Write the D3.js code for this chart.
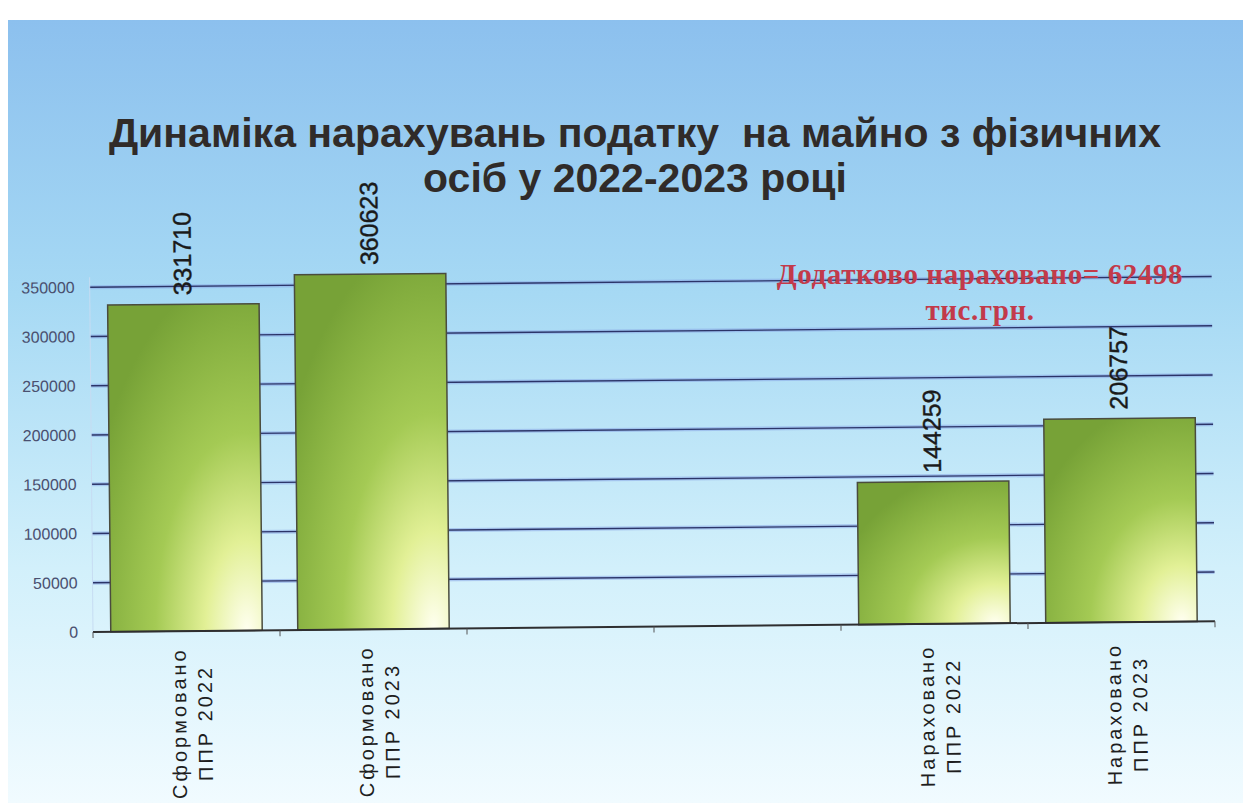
<!DOCTYPE html>
<html>
<head>
<meta charset="utf-8">
<script src="https://cdn.jsdelivr.net/npm/d3@7"></script>
<style>
  html, body { margin: 0; padding: 0; background: #fff; }
  svg { display: block; }
</style>
</head>
<body>
<div id="plot"></div>
<script>
// values (тис. грн.)
const categories = ['Сформовано ППР 2022', 'Сформовано ППР 2023', 'gap1', 'gap2', 'Нараховано ППР 2022', 'Нараховано ППР 2023'];
const labelLines = [['Сформовано', 'ППР 2022'], ['Сформовано', 'ППР 2023'], null, null, ['Нараховано', 'ППР 2022'], ['Нараховано', 'ППР 2023']];
const values = [331710, 360623, null, null, 144259, 206757];
const yTicks = [0, 50000, 100000, 150000, 200000, 250000, 300000, 350000];
const titleLines = ['Динаміка нарахувань податку  на майно з фізичних', 'осіб у 2022-2023 році'];
const noteLines = ['Додатково нараховано= 62498', 'тис.грн.'];

const width = 1243;
const height = 803;
const plot = {left: 93, right: 1215, top: 238, bottom: 632};

const svg = d3.select('#plot')
    .append('svg')
    .attr('width', width)
    .attr('height', height);

const defs = svg.append('defs');

const bg = defs.append('linearGradient')
    .attr('id', 'bg')
    .attr('x1', 0).attr('y1', 0).attr('x2', 0).attr('y2', 1);
bg.append('stop').attr('offset', '0%').attr('stop-color', '#8cc0ee');
bg.append('stop').attr('offset', '35%').attr('stop-color', '#a6d9f4');
bg.append('stop').attr('offset', '70%').attr('stop-color', '#d2f0fb');
bg.append('stop').attr('offset', '100%').attr('stop-color', '#f1fbff');

const barFill = defs.append('radialGradient')
    .attr('id', 'barFill')
    .attr('cx', '0.9').attr('cy', '1').attr('r', '1.1')
    .attr('fx', '0.9').attr('fy', '1');
barFill.append('stop').attr('offset', '0%').attr('stop-color', '#fffff0');
barFill.append('stop').attr('offset', '25%').attr('stop-color', '#e2f096');
barFill.append('stop').attr('offset', '55%').attr('stop-color', '#a4ca54');
barFill.append('stop').attr('offset', '85%').attr('stop-color', '#86b040');
barFill.append('stop').attr('offset', '100%').attr('stop-color', '#77a237');

// slide background (photo has a white strip top/left)
svg.append('rect')
    .attr('x', 8).attr('y', 20)
    .attr('width', width - 8).attr('height', height - 20)
    .attr('fill', 'url(#bg)');

svg.append('g')
    .selectAll('text')
    .data(titleLines)
    .join('text')
    .attr('x', 635)
    .attr('y', (d, i) => 147 + i * 45)
    .attr('text-anchor', 'middle')
    .attr('font-family', 'Liberation Sans, Arial, sans-serif')
    .attr('font-weight', 'bold')
    .attr('font-size', '41px')
    .attr('fill', '#302b29')
    .style('white-space', 'pre')
    .text(d => d);

// the photo is slightly tilted, so the plot is too
const chart = svg.append('g')
    .attr('transform', `rotate(-0.55, ${plot.left}, ${plot.bottom})`);

const x = d3.scaleBand()
    .domain(categories)
    .range([plot.left, plot.right])
    .paddingInner(0.19)
    .paddingOuter(0.095);

const y = d3.scaleLinear()
    .domain([0, 400000])
    .range([plot.bottom, plot.top]);

// gridlines with a soft glow
const grid = chart.append('g');
grid.selectAll('line.glow')
    .data(yTicks.slice(1))
    .join('line')
    .attr('class', 'glow')
    .attr('x1', plot.left).attr('x2', plot.right)
    .attr('y1', d => y(d)).attr('y2', d => y(d))
    .attr('stroke', '#8aa8e6')
    .attr('stroke-width', 4)
    .attr('opacity', 0.55);
grid.selectAll('line.main')
    .data(yTicks.slice(1))
    .join('line')
    .attr('class', 'main')
    .attr('x1', plot.left).attr('x2', plot.right)
    .attr('y1', d => y(d)).attr('y2', d => y(d))
    .attr('stroke', '#2b3468')
    .attr('stroke-width', 1.3);

chart.append('line')
    .attr('x1', plot.left).attr('x2', plot.left)
    .attr('y1', y(350000) - 10).attr('y2', plot.bottom)
    .attr('stroke', '#c6dcf2')
    .attr('stroke-width', 1);

const yAxis = chart.append('g')
    .attr('transform', `translate(${plot.left},0)`)
    .call(d3.axisLeft(y).tickValues(yTicks).tickSize(0).tickPadding(15).tickFormat(d3.format('d')));
yAxis.select('.domain').remove();
yAxis.selectAll('text')
    .attr('font-family', 'Liberation Sans, Arial, sans-serif')
    .attr('font-size', '16px')
    .attr('fill', '#4a5070');

const bars = categories.map((c, i) => ({key: c, value: values[i], lines: labelLines[i]}))
    .filter(d => d.value != null);

chart.append('g')
    .selectAll('rect')
    .data(bars)
    .join('rect')
    .attr('x', d => x(d.key))
    .attr('y', d => y(d.value))
    .attr('width', x.bandwidth())
    .attr('height', d => y(0) - y(d.value))
    .attr('fill', 'url(#barFill)')
    .attr('stroke', '#4a4c3e')
    .attr('stroke-width', 1.5);

// x axis line and ticks between categories
chart.append('line')
    .attr('x1', plot.left).attr('x2', plot.right)
    .attr('y1', plot.bottom).attr('y2', plot.bottom)
    .attr('stroke', '#2e2e30')
    .attr('stroke-width', 2);

const tickXs = d3.range(categories.length + 1).map(i => plot.left + i * x.step());
chart.append('g')
    .selectAll('line')
    .data(tickXs)
    .join('line')
    .attr('x1', d => d).attr('x2', d => d)
    .attr('y1', plot.bottom).attr('y2', plot.bottom + 6)
    .attr('stroke', '#555')
    .attr('stroke-width', 1);

// value labels above bars
chart.append('g')
    .selectAll('text')
    .data(bars)
    .join('text')
    .attr('transform', d => `translate(${x(d.key) + x.bandwidth() / 2 + 8},${y(d.value) - 9}) rotate(-90)`)
    .attr('font-family', 'Liberation Sans, Arial, sans-serif')
    .attr('font-size', '25px')
    .attr('fill', '#1a1a1a')
    .attr('stroke', '#1a1a1a')
    .attr('stroke-width', 0.4)
    .text(d => d.value);

// category labels, two lines, rotated
const catLabels = chart.append('g')
    .selectAll('text')
    .data(bars)
    .join('text')
    .attr('transform', d => `translate(${x(d.key) + x.bandwidth() / 2},724) rotate(-90)`)
    .attr('text-anchor', 'middle')
    .attr('font-family', 'Liberation Sans, Arial, sans-serif')
    .attr('font-size', '20px')
    .attr('letter-spacing', '3px')
    .attr('fill', '#1e1e1e');
catLabels.selectAll('tspan')
    .data(d => d.lines)
    .join('tspan')
    .attr('x', 0)
    .attr('y', (d, i) => i === 0 ? -1 : 25)
    .text(d => d);

// annotation text box
svg.append('g')
    .selectAll('text')
    .data(noteLines)
    .join('text')
    .attr('x', 980)
    .attr('y', (d, i) => 284 + i * 36)
    .attr('text-anchor', 'middle')
    .attr('font-family', 'Liberation Serif, Times New Roman, serif')
    .attr('font-weight', 'bold')
    .attr('font-size', '29px')
    .attr('letter-spacing', '0.6px')
    .attr('fill', '#c23a4a')
    .text(d => d);
</script>
</body>
</html>
